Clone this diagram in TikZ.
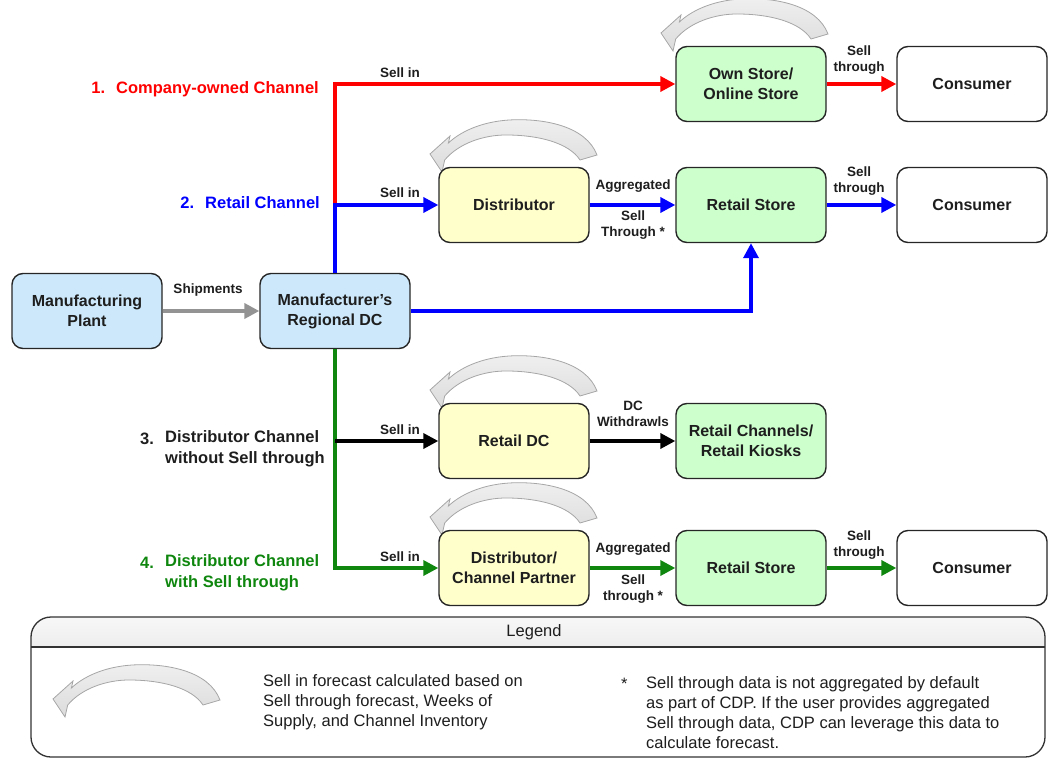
\documentclass[tikz,border=0pt]{standalone}
\usepackage{fontspec}
\setmainfont{Liberation Sans}
\usetikzlibrary{arrows.meta}

\definecolor{plantblue}{HTML}{CCE8FA}
\definecolor{distyellow}{HTML}{FFFFCC}
\definecolor{storegreen}{HTML}{CCFFCC}
\definecolor{chgreen}{HTML}{0F870F}
\definecolor{lbl}{HTML}{1E1E1E}

\tikzset{
  box/.style={draw=black!85, line width=1.4pt, rounded corners=11pt,
    minimum width=150pt, minimum height=75pt, inner sep=0pt, align=center,
    text=lbl, font=\fontsize{16}{20}\selectfont\bfseries},
  flow/.style={line width=3.5pt, -{Triangle[length=15pt,width=15pt]}},
  small/.style={inner sep=0pt, align=center, text=lbl,
    font=\fontsize{13.5}{16.5}\selectfont\bfseries},
  chan/.style={inner sep=0pt, align=left,
    font=\fontsize{16.5}{20.5}\selectfont\bfseries},
  legtext/.style={inner sep=0pt, align=left, text=lbl,
    font=\fontsize{16.5}{20}\selectfont},
  loopback/.pic={
    \path[draw=gray!70, line width=0.8pt, top color=gray!12, middle color=white, bottom color=gray!28]
      (83,-13) .. controls (72,-42) and (30,-50) .. (-5,-48)
      .. controls (-35,-46) and (-55,-35) .. (-65.6,-25)
      -- (-64,-32) -- (-84,-14) -- (-72,4) -- (-69.3,-8)
      .. controls (-55,-25) and (-30,-33) .. (-8,-33)
      .. controls (25,-33) and (55,-25) .. (66,-8) -- cycle;
  }
}

\begin{document}
\begin{tikzpicture}[x=1pt,y=-1pt]
	\useasboundingbox (0,0) rectangle (1051,759);

	\pic at (745,47) {loopback};
	\pic at (514,168) {loopback};
	\pic at (514,404) {loopback};
	\pic at (514,531) {loopback};

	\node[box, fill=plantblue] (plant) at (87,311) {Manufacturing\\Plant};
	\node[box, fill=plantblue] (regdc) at (335,311) {Manufacturer's\\Regional DC};
	\node[box, fill=storegreen] (own) at (751,84) {Own Store/\\Online Store};
	\node[box, fill=white] (cons1) at (972,84) {Consumer};
	\node[box, fill=distyellow] (dist) at (514,205) {Distributor};
	\node[box, fill=storegreen] (store2) at (751,205) {Retail Store};
	\node[box, fill=white] (cons2) at (972,205) {Consumer};
	\node[box, fill=distyellow] (retdc) at (514,441) {Retail DC};
	\node[box, fill=storegreen] (kiosk) at (751,441) {Retail Channels/\\Retail Kiosks};
	\node[box, fill=distyellow] (partner) at (514,568) {Distributor/\\Channel Partner};
	\node[box, fill=storegreen] (store4) at (751,568) {Retail Store};
	\node[box, fill=white] (cons4) at (972,568) {Consumer};

	\coordinate (split) at (regdc.north |- dist.west);
	\coordinate (branch) at (regdc.south |- retdc.west);

	\draw[flow, gray!85, line width=4.5pt] (plant.east) -- (regdc.west);
	\draw[flow, red] (split) |- (own.west);
	\draw[flow, red] (own.east) -- (cons1.west);
	\draw[flow, blue] (regdc.north) |- (dist.west);
	\draw[flow, blue] (dist.east) -- (store2.west);
	\draw[flow, blue] (store2.east) -- (cons2.west);
	\draw[flow, blue] (regdc.east) -| (store2.south);
	\draw[flow, chgreen] (regdc.south) |- (partner.west);
	\draw[flow, black] (branch) -- (retdc.west);
	\draw[flow, black] (retdc.east) -- (kiosk.west);
	\draw[flow, chgreen] (partner.east) -- (store4.west);
	\draw[flow, chgreen] (store4.east) -- (cons4.west);

	\node[small] (ship) at (208,290) {Shipments};
	\node[small] (sellin1) at (400,73) {Sell in};
	\node[small] (sellin2) at (400,193) {Sell in};
	\node[small] (sellin3) at (400,430) {Sell in};
	\node[small] (sellin4) at (400,557) {Sell in};
	\node[small] (thru1) at (859,60) {Sell\\through};
	\node[small] (thru2) at (859,181) {Sell\\through};
	\node[small] (thru4) at (859,545) {Sell\\through};
	\node[small] (agg2) at (633,186) {Aggregated};
	\node[small] (aggthru2) at (633,225) {Sell\\Through *};
	\node[small] (withdraw) at (633,414) {DC\\Withdrawls};
	\node[small] (agg4) at (633,549) {Aggregated};
	\node[small] (aggthru4) at (633,589) {Sell\\through *};

	\node[chan, red, anchor=east] (ch1) at (319,89) {1.\hspace{11pt}Company-owned Channel};
	\node[chan, blue, anchor=east] (ch2) at (320,203) {2.\hspace{11pt}Retail Channel};
	\node[chan, lbl, anchor=west] (num3) at (140,439) {3.};
	\node[chan, lbl, anchor=west] (ch3) at (165,449) {Distributor Channel\\without Sell through};
	\node[chan, chgreen, anchor=west] (num4) at (140,563) {4.};
	\node[chan, chgreen, anchor=west] (ch4) at (165,573) {Distributor Channel\\with Sell through};

	% legend
	\begin{scope}
		\clip[rounded corners=20pt] (31,617) rectangle (1045,757);
		\fill[top color=gray!6, bottom color=gray!14] (31,617) rectangle (1045,647);
	\end{scope}
	\draw[gray!40!black, line width=1.3pt] (31,647) -- (1045,647);
	\draw[gray!40!black, line width=1.3pt, rounded corners=20pt] (31,617) rectangle (1045,757);
	\node[legtext] (legtitle) at (534,632) {Legend};
	\pic at (137,713) {loopback};
	\node[legtext, anchor=north west] (legloop) at (263,674) {Sell in forecast calculated based on\\Sell through forecast, Weeks of\\Supply, and Channel Inventory};
	\node[legtext, anchor=west] (legstar) at (621,684) {*};
	\node[legtext, anchor=north west] (legnote) at (646,676) {Sell through data is not aggregated by default\\as part of CDP. If the user provides aggregated\\Sell through data, CDP can leverage this data to\\calculate forecast.};
\end{tikzpicture}
\end{document}
